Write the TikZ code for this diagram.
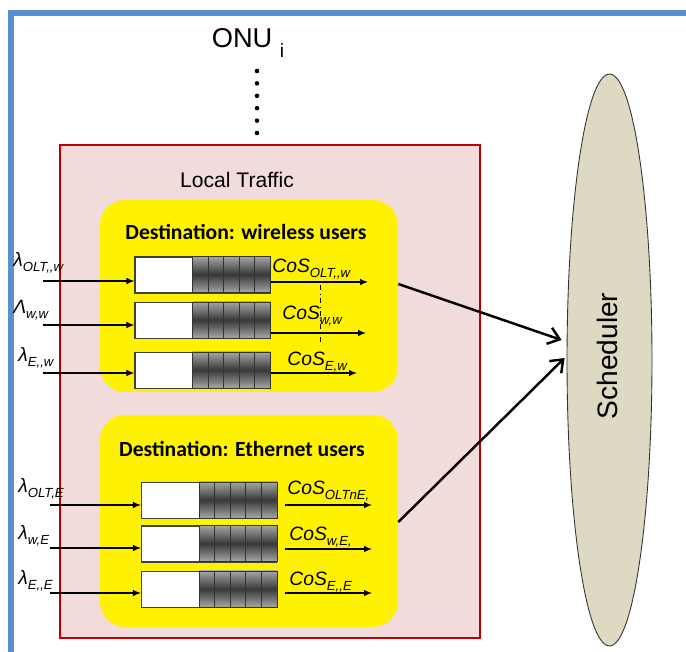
\documentclass[tikz,border=0pt]{standalone}
\usepackage{fontspec}
\setmainfont{Liberation Sans}
\newfontfamily\titlefont{Carlito}
\usepackage{tikz}
\usetikzlibrary{arrows.meta,positioning,calc,shapes.geometric}

\definecolor{frameblue}{HTML}{5A8FD3}
\definecolor{localred}{HTML}{C00000}
\definecolor{localpink}{HTML}{F2DCDB}
\definecolor{schedtan}{HTML}{DDD9C3}
\newcommand{\idx}[1]{\raisebox{-0.45ex}{\fontsize{7.5}{9}\selectfont #1}}

\begin{document}
\begin{tikzpicture}[x=0.02cm, y=-0.02cm, font=\fontsize{11}{13}\selectfont,
    qbox/.style={draw=black!75, fill=white, line width=0.6pt,
      minimum width=2.7cm, minimum height=0.72cm, inner sep=0pt},
    qcell/.style={draw=black!80, line width=0.5pt, top color=black!35,
      bottom color=black!35, middle color=black!78},
    ybox/.style={fill=yellow, rounded corners=0.5cm, minimum width=5.96cm,
      inner sep=0pt},
    flow/.style={-{Latex[length=1.6mm,width=1.3mm]}, line width=0.6pt},
    bigarrow/.style={-{Straight Barb[length=2.2mm,width=3.4mm]}, line width=1.4pt},
    rate/.style={anchor=west, inner sep=0pt, font=\fontsize{11}{13}\selectfont\itshape},
  ]
    \useasboundingbox (0,0) rectangle (686,652);
    \draw[frameblue, line width=3.4pt] (686,13) -- (11,13) -- (11,652);

    % ONU and the dots below it
    \node (onu) at (248,43) {\fontsize{15.5}{18}\selectfont ONU \raisebox{-0.7ex}{\fontsize{11}{13}\selectfont i}};
    \foreach \k in {0,...,5}
      \fill (257,71+\k*12.4) circle (1.3pt);

    % local traffic area
    \node[draw=localred, fill=localpink, line width=1.1pt, minimum width=8.4cm,
      minimum height=9.86cm, inner sep=0pt] (local) at (270,391.5) {};
    \node (localtxt) at (237,180) {\fontsize{12}{14}\selectfont Local Traffic};

    \node[ybox, minimum height=3.84cm] (wless) at (249,296) {};
    \node[ybox, minimum height=4.24cm] (ether) at (249,521) {};
    \node (wlesstitle) at (246,232) {\titlefont\bfseries\fontsize{12.3}{14}\selectfont Destination: wireless users};
    \node (ethertitle) at (242,449) {\titlefont\bfseries\fontsize{12.3}{14}\selectfont Destination: Ethernet users};

    % queues
    \foreach \n/\y in {qw1/275, qw2/320.5, qw3/370.5}
      \node[qbox] (\n) at (202.5,\y) {};
    \foreach \n/\y in {qe1/500.5, qe2/544, qe3/589.5}
      \node[qbox] (\n) at (209,\y) {};
    \foreach \q in {qw1,qw2,qw3,qe1,qe2,qe3}
      \foreach \k in {1,...,5}
        \shadedraw[qcell] ([xshift=-\k*0.312cm]\q.north east) rectangle ++(0.312cm,-0.72cm);

    % arrivals
    \foreach \q/\x/\y in {qw1/43/281, qw2/43/325, qw3/43/373, qe1/50/505, qe2/50/548, qe3/50/593} {
      \coordinate (in-\q) at (\x,\y);
      \draw[flow] (in-\q) -- (in-\q -| \q.west);
    }
    \node[rate] (lw1) at (13,263) {λ\idx{OLT,{},w}};
    \node[rate] (lw2) at (13,310) {Λ\idx{w,w}};
    \node[rate] (lw3) at (18,358) {λ\idx{E,{},w}};
    \node[rate] (le1) at (18,489) {λ\idx{OLT,E}};
    \node[rate] (le2) at (18,536) {λ\idx{w,E}};
    \node[rate] (le3) at (18,581) {λ\idx{E,{},E}};

    % departures
    \foreach \q/\x/\y in {qw1/368/282, qw2/366/333, qw3/357/373} {
      \coordinate (out-\q) at (\x,\y);
      \draw[flow] (\q.east |- out-\q) -- (out-\q);
    }
    \foreach \q/\x/\y in {qe1/372/505, qe2/372/549, qe3/372/593} {
      \coordinate (out-\q) at (\x,\y);
      \draw[flow] ($(\q.east |- out-\q)+(8,0)$) -- (out-\q);
    }
    \node[rate] (cw1) at (272,269) {CoS\idx{OLT,{},w}};
    \node[rate] (cw2) at (282,316) {CoS\idx{w,w}};
    \node[rate] (cw3) at (287,362) {CoS\idx{E,w}};
    \node[rate] (ce1) at (287,491) {CoS\idx{OLTnE,}};
    \node[rate] (ce2) at (289,537) {CoS\idx{w,E,}};
    \node[rate] (ce3) at (289,582) {CoS\idx{E,{},E}};

    \coordinate (splittop) at (320,285);
    \coordinate (splitbot) at (320,345);
    \draw[dash dot, line width=0.5pt] (splittop) -- (splitbot);

    % scheduler
    \node[ellipse, draw=black!80, fill=schedtan, line width=0.5pt, minimum width=1.7cm,
      minimum height=11.44cm, inner sep=0pt] (sched) at (609.5,360) {};
    \node[rotate=90] (schedtxt) at (607,356) {\fontsize{16}{19}\selectfont Scheduler};

    \draw[bigarrow] ([yshift=0.24cm]wless.east) -- ([shift={(-0.1cm,0.4cm)}]sched.west);
    \draw[bigarrow] ([yshift=-0.02cm]ether.east) -- ([shift={(-0.04cm,0.04cm)}]sched.west);
  \end{tikzpicture}
\end{document}
